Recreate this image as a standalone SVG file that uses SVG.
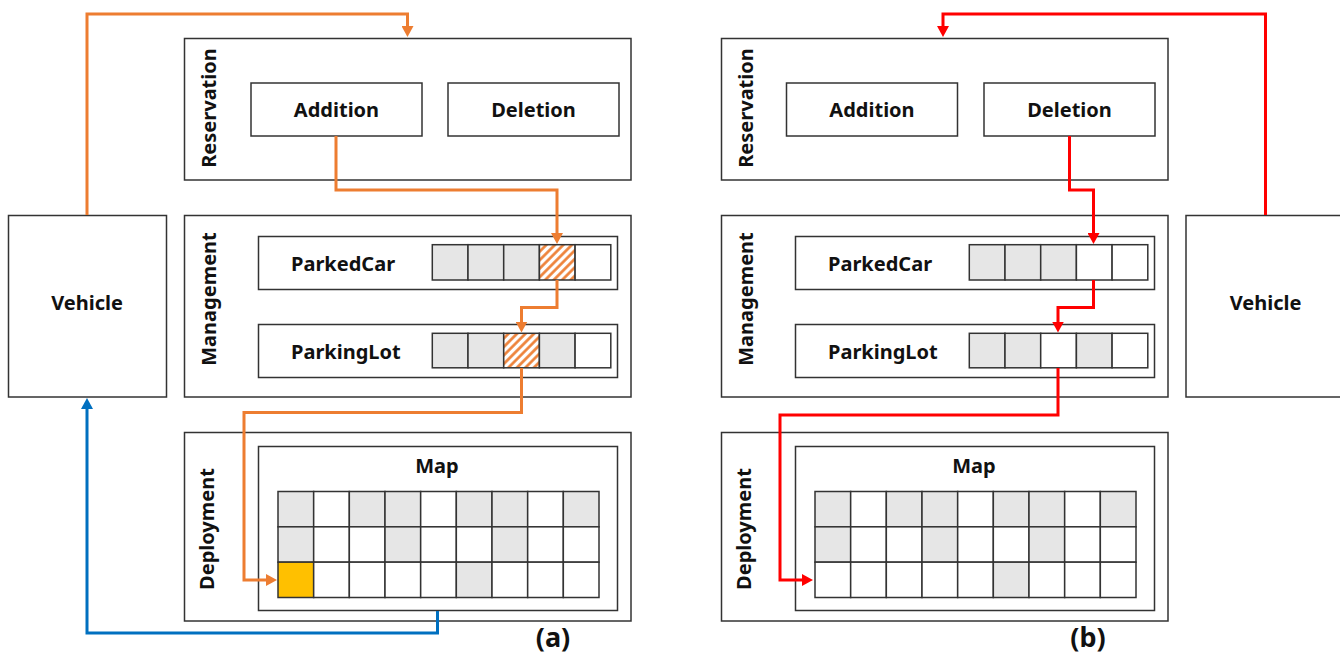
<svg xmlns="http://www.w3.org/2000/svg" width="1340" height="655" viewBox="0 0 1340 655">
<style>
.box{fill:#fff;stroke:#333;stroke-width:1.5}
.g{fill:#e6e6e6;stroke:#333;stroke-width:1.5}
.w{fill:#fff;stroke:#333;stroke-width:1.5}
.h{fill:url(#hatch);stroke:#333;stroke-width:1.5}
.y{fill:#ffc000;stroke:#333;stroke-width:1.5}
.t{font-family:"Noto Sans","Open Sans","DejaVu Sans",sans-serif;font-weight:bold;font-size:20px;fill:#111}
.c{text-anchor:middle}
.cap{font-family:"Noto Sans","Open Sans","DejaVu Sans",sans-serif;font-weight:bold;font-size:27px;fill:#111;text-anchor:middle}
.conn{fill:none;stroke-width:3}
.or{stroke:#ed7d31}
.bl{stroke:#0070c0}
.rd{stroke:#ff0000}
</style>
<defs>
<pattern id="hatch" patternUnits="userSpaceOnUse" width="6" height="6" patternTransform="rotate(45)">
<rect width="6" height="6" fill="#fff"/>
<line x1="1.5" y1="0" x2="1.5" y2="6" stroke="#ed7d31" stroke-width="2.6"/>
</pattern>
<marker id="ao" markerUnits="userSpaceOnUse" markerWidth="12" markerHeight="12" refX="1" refY="6" orient="auto"><path d="M0,0 L11,6 L0,12 z" fill="#ed7d31"/></marker>
<marker id="ab" markerUnits="userSpaceOnUse" markerWidth="12" markerHeight="12" refX="1" refY="6" orient="auto"><path d="M0,0 L11,6 L0,12 z" fill="#0070c0"/></marker>
<marker id="ar" markerUnits="userSpaceOnUse" markerWidth="12" markerHeight="12" refX="1" refY="6" orient="auto"><path d="M0,0 L11,6 L0,12 z" fill="#ff0000"/></marker>
</defs>
<rect width="1340" height="655" fill="#fff"/>

<!-- Left panel (a) -->
<g id="vehicle-a">
<rect class="box" x="8.5" y="215.5" width="158" height="181.5"/>
<text class="t c" x="87" y="310">Vehicle</text>
</g>
<g id="reservation-a">
<rect class="box" x="184.5" y="38.5" width="446.5" height="141.5"/>
<text class="t c" transform="translate(216,108) rotate(-90)">Reservation</text>
</g>
<g id="addition-a">
<rect class="box" x="251" y="83" width="171" height="53"/>
<text class="t c" x="336.5" y="117">Addition</text>
</g>
<g id="deletion-a">
<rect class="box" x="448" y="83" width="171" height="53"/>
<text class="t c" x="533.5" y="117">Deletion</text>
</g>
<g id="management-a">
<rect class="box" x="184.5" y="215.5" width="446.5" height="181.5"/>
<text class="t c" transform="translate(216,299) rotate(-90)">Management</text>
</g>
<g id="parkedcar-a">
<rect class="box" x="258.5" y="236.5" width="359" height="53"/>
<text class="t" x="291" y="271">ParkedCar</text>
<rect class="g" x="432.3" y="244.7" width="35.7" height="35.3"/>
<rect class="g" x="468" y="244.7" width="35.7" height="35.3"/>
<rect class="g" x="503.7" y="244.7" width="35.7" height="35.3"/>
<rect class="h" x="539.4" y="244.7" width="35.7" height="35.3"/>
<rect class="w" x="575.1" y="244.7" width="35.7" height="35.3"/>
</g>
<g id="parkinglot-a">
<rect class="box" x="258.5" y="324.5" width="359" height="53"/>
<text class="t" x="291" y="359">ParkingLot</text>
<rect class="g" x="432.3" y="333.3" width="35.7" height="34.5"/>
<rect class="g" x="468" y="333.3" width="35.7" height="34.5"/>
<rect class="h" x="503.7" y="333.3" width="35.7" height="34.5"/>
<rect class="g" x="539.4" y="333.3" width="35.7" height="34.5"/>
<rect class="w" x="575.1" y="333.3" width="35.7" height="34.5"/>
</g>
<g id="deployment-a">
<rect class="box" x="184.5" y="432.5" width="446.5" height="188.5"/>
<text class="t c" transform="translate(214,529) rotate(-90)">Deployment</text>
</g>
<g id="map-a">
<rect class="box" x="258.5" y="446.5" width="359" height="164"/>
<text class="t c" x="437" y="473">Map</text>
<rect class="g" x="278" y="491.5" width="35.67" height="35.33"/>
<rect class="w" x="313.67" y="491.5" width="35.67" height="35.33"/>
<rect class="g" x="349.33" y="491.5" width="35.67" height="35.33"/>
<rect class="g" x="385" y="491.5" width="35.67" height="35.33"/>
<rect class="w" x="420.67" y="491.5" width="35.67" height="35.33"/>
<rect class="g" x="456.33" y="491.5" width="35.67" height="35.33"/>
<rect class="g" x="492" y="491.5" width="35.67" height="35.33"/>
<rect class="w" x="527.67" y="491.5" width="35.67" height="35.33"/>
<rect class="g" x="563.33" y="491.5" width="35.67" height="35.33"/>
<rect class="g" x="278" y="526.83" width="35.67" height="35.33"/>
<rect class="w" x="313.67" y="526.83" width="35.67" height="35.33"/>
<rect class="w" x="349.33" y="526.83" width="35.67" height="35.33"/>
<rect class="g" x="385" y="526.83" width="35.67" height="35.33"/>
<rect class="w" x="420.67" y="526.83" width="35.67" height="35.33"/>
<rect class="w" x="456.33" y="526.83" width="35.67" height="35.33"/>
<rect class="g" x="492" y="526.83" width="35.67" height="35.33"/>
<rect class="w" x="527.67" y="526.83" width="35.67" height="35.33"/>
<rect class="w" x="563.33" y="526.83" width="35.67" height="35.33"/>
<rect class="y" x="278" y="562.17" width="35.67" height="35.33"/>
<rect class="w" x="313.67" y="562.17" width="35.67" height="35.33"/>
<rect class="w" x="349.33" y="562.17" width="35.67" height="35.33"/>
<rect class="w" x="385" y="562.17" width="35.67" height="35.33"/>
<rect class="w" x="420.67" y="562.17" width="35.67" height="35.33"/>
<rect class="g" x="456.33" y="562.17" width="35.67" height="35.33"/>
<rect class="w" x="492" y="562.17" width="35.67" height="35.33"/>
<rect class="w" x="527.67" y="562.17" width="35.67" height="35.33"/>
<rect class="w" x="563.33" y="562.17" width="35.67" height="35.33"/>
</g>
<text id="label-a" class="cap" x="553" y="647">(a)</text>

<!-- Right panel (b) -->
<g id="vehicle-b">
<rect class="box" x="1186" y="215.5" width="160" height="181.5"/>
<text class="t c" x="1265.5" y="310">Vehicle</text>
</g>
<g transform="translate(537,0)">
<g id="reservation-b">
<rect class="box" x="184.5" y="38.5" width="446.5" height="141.5"/>
<text class="t c" transform="translate(216,108) rotate(-90)">Reservation</text>
</g>
<g id="addition-b">
<rect class="box" x="249.5" y="83" width="171" height="53"/>
<text class="t c" x="335" y="117">Addition</text>
</g>
<g id="deletion-b">
<rect class="box" x="447" y="83" width="171" height="53"/>
<text class="t c" x="532.5" y="117">Deletion</text>
</g>
<g id="management-b">
<rect class="box" x="184.5" y="215.5" width="446.5" height="181.5"/>
<text class="t c" transform="translate(216,299) rotate(-90)">Management</text>
</g>
<g id="parkedcar-b">
<rect class="box" x="258.5" y="236.5" width="359" height="53"/>
<text class="t" x="291" y="271">ParkedCar</text>
<rect class="g" x="432.3" y="244.7" width="35.7" height="35.3"/>
<rect class="g" x="468" y="244.7" width="35.7" height="35.3"/>
<rect class="g" x="503.7" y="244.7" width="35.7" height="35.3"/>
<rect class="w" x="539.4" y="244.7" width="35.7" height="35.3"/>
<rect class="w" x="575.1" y="244.7" width="35.7" height="35.3"/>
</g>
<g id="parkinglot-b">
<rect class="box" x="258.5" y="324.5" width="359" height="53"/>
<text class="t" x="291" y="359">ParkingLot</text>
<rect class="g" x="432.3" y="333.3" width="35.7" height="34.5"/>
<rect class="g" x="468" y="333.3" width="35.7" height="34.5"/>
<rect class="w" x="503.7" y="333.3" width="35.7" height="34.5"/>
<rect class="g" x="539.4" y="333.3" width="35.7" height="34.5"/>
<rect class="w" x="575.1" y="333.3" width="35.7" height="34.5"/>
</g>
<g id="deployment-b">
<rect class="box" x="184.5" y="432.5" width="446.5" height="188.5"/>
<text class="t c" transform="translate(214,529) rotate(-90)">Deployment</text>
</g>
<g id="map-b">
<rect class="box" x="258.5" y="446.5" width="359" height="164"/>
<text class="t c" x="437" y="473">Map</text>
<rect class="g" x="278" y="491.5" width="35.67" height="35.33"/>
<rect class="w" x="313.67" y="491.5" width="35.67" height="35.33"/>
<rect class="g" x="349.33" y="491.5" width="35.67" height="35.33"/>
<rect class="g" x="385" y="491.5" width="35.67" height="35.33"/>
<rect class="w" x="420.67" y="491.5" width="35.67" height="35.33"/>
<rect class="g" x="456.33" y="491.5" width="35.67" height="35.33"/>
<rect class="g" x="492" y="491.5" width="35.67" height="35.33"/>
<rect class="w" x="527.67" y="491.5" width="35.67" height="35.33"/>
<rect class="g" x="563.33" y="491.5" width="35.67" height="35.33"/>
<rect class="g" x="278" y="526.83" width="35.67" height="35.33"/>
<rect class="w" x="313.67" y="526.83" width="35.67" height="35.33"/>
<rect class="w" x="349.33" y="526.83" width="35.67" height="35.33"/>
<rect class="g" x="385" y="526.83" width="35.67" height="35.33"/>
<rect class="w" x="420.67" y="526.83" width="35.67" height="35.33"/>
<rect class="w" x="456.33" y="526.83" width="35.67" height="35.33"/>
<rect class="g" x="492" y="526.83" width="35.67" height="35.33"/>
<rect class="w" x="527.67" y="526.83" width="35.67" height="35.33"/>
<rect class="w" x="563.33" y="526.83" width="35.67" height="35.33"/>
<rect class="w" x="278" y="562.17" width="35.67" height="35.33"/>
<rect class="w" x="313.67" y="562.17" width="35.67" height="35.33"/>
<rect class="w" x="349.33" y="562.17" width="35.67" height="35.33"/>
<rect class="w" x="385" y="562.17" width="35.67" height="35.33"/>
<rect class="w" x="420.67" y="562.17" width="35.67" height="35.33"/>
<rect class="g" x="456.33" y="562.17" width="35.67" height="35.33"/>
<rect class="w" x="492" y="562.17" width="35.67" height="35.33"/>
<rect class="w" x="527.67" y="562.17" width="35.67" height="35.33"/>
<rect class="w" x="563.33" y="562.17" width="35.67" height="35.33"/>
</g>
</g>
<text id="label-b" class="cap" x="1088" y="647">(b)</text>

<!-- Connectors -->
<g id="connectors">
<path class="conn or" d="M87,215 V14 H407.5 V27" marker-end="url(#ao)"/>
<path class="conn or" d="M336,136 V190 H557 V234" marker-end="url(#ao)"/>
<path class="conn or" d="M557,280 V307.5 H521.5 V322.5" marker-end="url(#ao)"/>
<path class="conn or" d="M521.5,368 V412.5 H244 V580 H267" marker-end="url(#ao)"/>
<path class="conn bl" d="M437.5,611 V633 H87 V408" marker-end="url(#ab)"/>
<path class="conn rd" d="M1265.5,215 V14 H943 V27" marker-end="url(#ar)"/>
<path class="conn rd" d="M1069.5,136 V190 H1093.5 V234" marker-end="url(#ar)"/>
<path class="conn rd" d="M1093.5,280 V307.5 H1058 V322.5" marker-end="url(#ar)"/>
<path class="conn rd" d="M1058,368 V415 H780 V580 H803" marker-end="url(#ar)"/>
</g>
</svg>
